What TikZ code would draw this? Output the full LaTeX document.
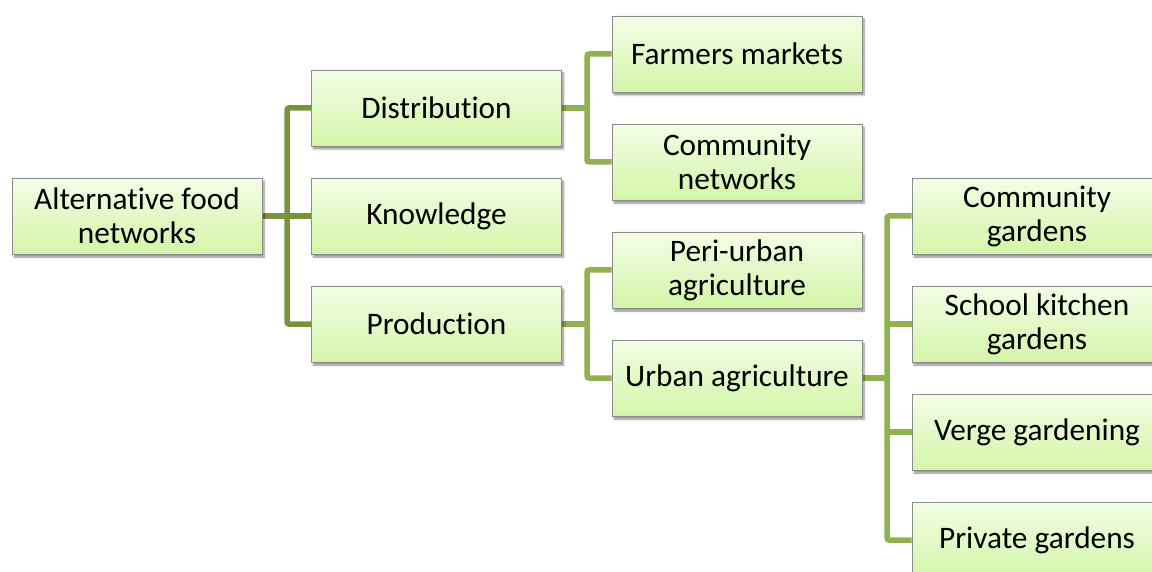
\documentclass[tikz,border=0pt]{standalone}
\usepackage{fontspec}
\setmainfont[Ligatures=NoCommon]{Carlito}
\usetikzlibrary{shadows.blur,backgrounds}
\definecolor{boxtop}{RGB}{243,253,230}
\definecolor{boxbot}{RGB}{212,245,168}
\definecolor{boxline}{RGB}{140,140,140}
\definecolor{linedark}{RGB}{119,147,60}
\definecolor{linelight}{RGB}{143,177,80}
\tikzset{
  box/.style={draw=boxline, line width=0.9pt, top color=boxtop, bottom color=boxbot,
    minimum width=250pt, minimum height=76pt, inner sep=0pt, align=center,
    font=\fontsize{31.3}{34}\selectfont,
    blur shadow={shadow xshift=2pt, shadow yshift=-3pt, shadow blur steps=6, shadow opacity=45}},
  conn1/.style={draw=linedark, line width=5.5pt, rounded corners=2pt},
  conn2/.style={draw=linelight, line width=5.5pt, rounded corners=2pt}
}
\begin{document}
\begin{tikzpicture}[x=1pt,y=-1pt]
\useasboundingbox (0,0) rectangle (1152,572);
\clip (0,0) rectangle (1152,572);
\node[box] (root) at (137,216) {Alternative food\\networks};
\node[box] (dist) at (436.5,108) {Distribution};
\node[box] (know) at (436.5,216) {Knowledge};
\node[box] (prod) at (436.5,324) {Production};
\node[box] (fm) at (737,54) {Farmers markets};
\node[box] (cn) at (737,162) {Community\\networks};
\node[box] (peri) at (737,270) {Peri-urban\\agriculture};
\node[box] (urban) at (737,378) {Urban agriculture};
\node[box] (cg) at (1037,216) {Community\\gardens};
\node[box] (skg) at (1037,324) {School kitchen\\gardens};
\node[box] (verge) at (1037,432) {Verge gardening};
\node[box] (pg) at (1037,540) {Private gardens};
\coordinate (j1) at (287,216);
\coordinate (j2) at (587,108);
\coordinate (j3) at (587,324);
\coordinate (j4) at (887,378);
\begin{scope}[on background layer]
\draw[conn1] (root.east) -- (know.west);
\draw[conn1] (dist.west) -| (j1) |- (prod.west);
\draw[conn2] (dist.east) -- (j2);
\draw[conn2] (fm.west) -| (j2) |- (cn.west);
\draw[conn2] (prod.east) -- (j3);
\draw[conn2] (peri.west) -| (j3) |- (urban.west);
\draw[conn2] (urban.east) -- (j4);
\draw[conn2] (cg.west) -| (j4) |- (pg.west);
\draw[conn2] (skg.west) -- (skg.west -| j4);
\draw[conn2] (verge.west) -- (verge.west -| j4);
\end{scope}
\end{tikzpicture}
\end{document}
